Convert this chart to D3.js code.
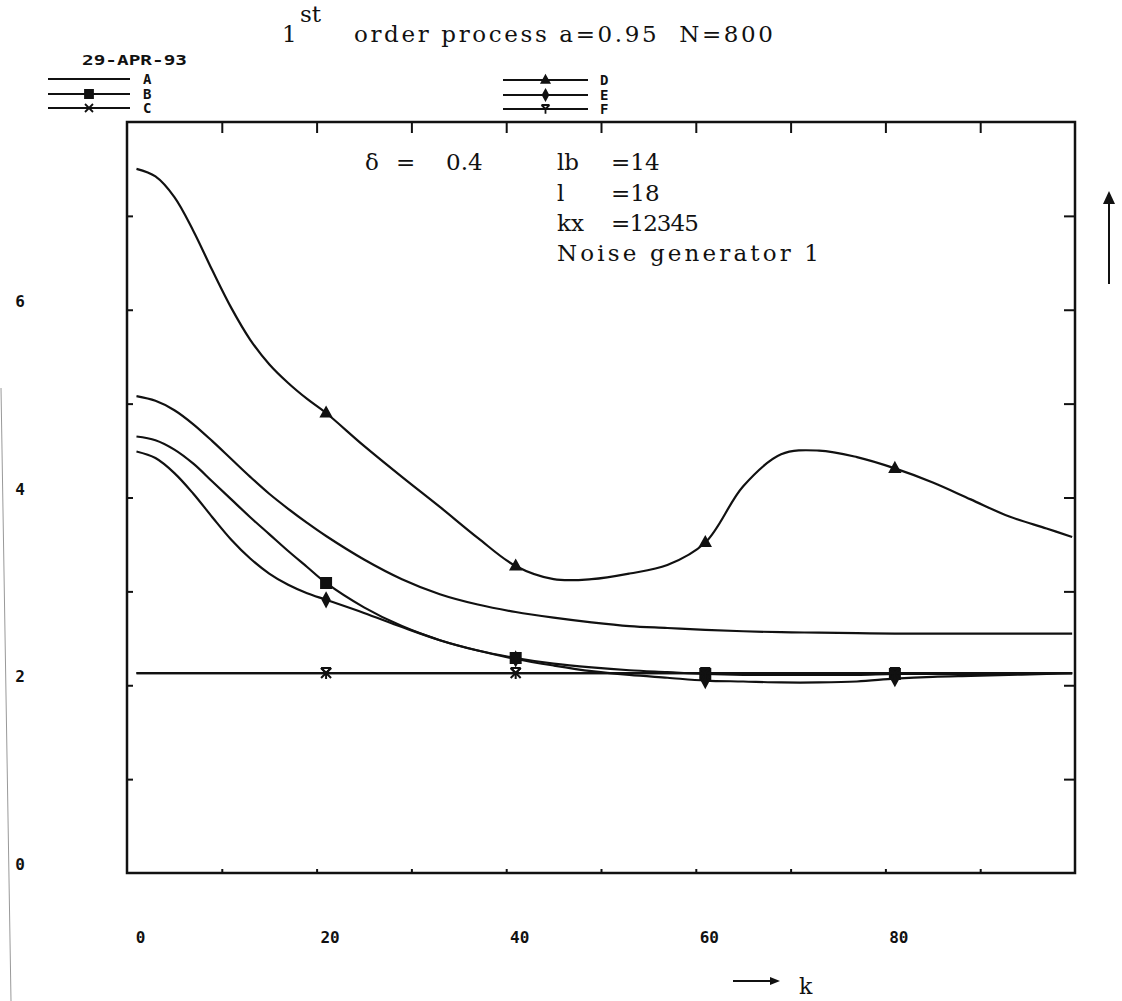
<!DOCTYPE html>
<html>
<head>
    <title>1st order process</title>
    <script src="https://d3js.org/d3.v7.min.js"></script>
    <style>
        body { margin: 0; background: #fff; }
        svg { display: block; }
        .type { font-family: "DejaVu Serif", serif; fill: #111; }
        .plot { font-family: "DejaVu Sans Mono", monospace; font-weight: bold; fill: #111; }
    </style>
</head>
<body>
<svg id="chart" width="1122" height="1001"></svg>
<script>
    // sample points along k (same grid for every series)
    const kGrid = [0, 2, 4, 6, 8, 10, 12, 14, 16, 18, 20, 24, 28, 32, 36, 40, 44, 48, 52, 56, 60, 64, 68, 72, 76, 80, 84, 88, 92, 96, 98.7];

    const seriesA = [5.08, 5.03, 4.93, 4.78, 4.60, 4.41, 4.22, 4.04, 3.88, 3.73, 3.59, 3.34, 3.13, 2.97, 2.86, 2.78, 2.72, 2.67, 2.63, 2.61, 2.59, 2.575, 2.565, 2.56, 2.555, 2.55, 2.55, 2.55, 2.55, 2.55, 2.55];
    const seriesB = [4.65, 4.61, 4.51, 4.36, 4.17, 3.98, 3.79, 3.61, 3.43, 3.26, 3.09, 2.83, 2.63, 2.48, 2.37, 2.29, 2.23, 2.19, 2.16, 2.14, 2.12, 2.11, 2.11, 2.11, 2.11, 2.12, 2.12, 2.12, 2.12, 2.13, 2.13];
    const seriesC = [2.13, 2.13, 2.13, 2.13, 2.13, 2.13, 2.13, 2.13, 2.13, 2.13, 2.13, 2.13, 2.13, 2.13, 2.13, 2.13, 2.13, 2.13, 2.13, 2.13, 2.13, 2.13, 2.13, 2.13, 2.13, 2.13, 2.13, 2.13, 2.13, 2.13, 2.13];
    const seriesD = [7.50, 7.42, 7.20, 6.84, 6.42, 6.02, 5.68, 5.42, 5.22, 5.05, 4.90, 4.55, 4.22, 3.90, 3.57, 3.27, 3.13, 3.13, 3.19, 3.28, 3.52, 4.12, 4.46, 4.50, 4.43, 4.31, 4.16, 3.98, 3.80, 3.67, 3.58];
    const seriesE = [4.49, 4.42, 4.26, 4.04, 3.79, 3.55, 3.35, 3.19, 3.07, 2.98, 2.91, 2.77, 2.62, 2.48, 2.37, 2.28, 2.21, 2.15, 2.11, 2.08, 2.05, 2.04, 2.03, 2.03, 2.04, 2.07, 2.09, 2.10, 2.11, 2.12, 2.13];
    const seriesF = seriesC.slice();

    const markerK = [20, 40, 60, 80];
    const xTickLabels = [0, 20, 40, 60, 80];
    const yTickLabels = [0, 2, 4, 6];

    const svg = d3.select("#chart");

    // plot frame, from the old plotter: k -1..99, value 0..8
    const x = d3.scaleLinear().domain([-1, 99]).range([127, 1075]);
    const y = d3.scaleLinear().domain([0, 8]).range([873, 122]);

    // edge of the scanned page
    svg.append("line")
        .attr("x1", 1).attr("y1", 388).attr("x2", 11).attr("y2", 1001)
        .attr("stroke", "#999").attr("stroke-width", 1);

    // frame ticks divide the box in 10 x 8 parts
    const frameTicksX = d3.range(1, 10).map(i => -1 + 10 * i);
    const frameTicksY = d3.range(1, 8);

    svg.append("g").attr("transform", "translate(0,122)")
        .call(d3.axisTop(x).tickValues(frameTicksX).tickSize(-11).tickFormat(""))
        .call(g => g.select(".domain").remove());
    svg.append("g").attr("transform", "translate(0,873)")
        .call(d3.axisBottom(x).tickValues(frameTicksX).tickSize(-4).tickFormat(""))
        .call(g => g.select(".domain").remove());
    svg.append("g").attr("transform", "translate(127,0)")
        .call(d3.axisLeft(y).tickValues(frameTicksY).tickSize(-6).tickFormat(""))
        .call(g => g.select(".domain").remove());
    svg.append("g").attr("transform", "translate(1075,0)")
        .call(d3.axisRight(y).tickValues(frameTicksY).tickSize(-11).tickFormat(""))
        .call(g => g.select(".domain").remove());
    svg.selectAll(".tick line").attr("stroke", "#111").attr("stroke-width", 2);

    svg.append("rect")
        .attr("x", 127).attr("y", 122).attr("width", 1075 - 127).attr("height", 873 - 122)
        .attr("fill", "none").attr("stroke", "#111").attr("stroke-width", 2.5);

    // tick labels
    svg.append("g").selectAll("text").data(xTickLabels).join("text")
        .attr("class", "plot")
        .attr("x", d => x(d) + 4).attr("y", 943)
        .attr("text-anchor", "middle").attr("font-size", 16)
        .text(d => d);
    svg.append("g").selectAll("text").data(yTickLabels).join("text")
        .attr("class", "plot")
        .attr("x", 20).attr("y", d => y(d) - 3)
        .attr("text-anchor", "middle").attr("font-size", 16)
        .text(d => d);

    // marker shapes
    function markerPath(kind, s) {
        if (kind === "square") return `M${-s},${-s}H${s}V${s}H${-s}Z`;
        if (kind === "triangle") return `M0,${-s * 1.1}L${s},${s * 0.7}L${-s},${s * 0.7}Z`;
        if (kind === "cross") return `M${-s},${-s}L${s},${s}M${s},${-s}L${-s},${s}`;
        if (kind === "diamond") return `M0,${-s * 1.3}L${s * 0.7},0L0,${s * 1.3}L${-s * 0.7},0Z`;
        if (kind === "wye") return `M${-s},${-s}L0,0L${s},${-s}M0,0V${s * 1.2}M${-s},${-s}H${s}`;
        return "";
    }

    const series = [
        { name: "A", values: seriesA, marker: null },
        { name: "B", values: seriesB, marker: "square" },
        { name: "C", values: seriesC, marker: "cross" },
        { name: "D", values: seriesD, marker: "triangle" },
        { name: "E", values: seriesE, marker: "diamond" },
        { name: "F", values: seriesF, marker: "wye" }
    ];

    const line = d3.line()
        .x(d => x(d[0]))
        .y(d => y(d[1]))
        .curve(d3.curveCatmullRom.alpha(0.5));

    const plot = svg.append("g");
    series.forEach(s => {
        const pts = kGrid.map((k, i) => [k, s.values[i]]);
        plot.append("path")
            .datum(pts)
            .attr("d", line)
            .attr("fill", "none").attr("stroke", "#111").attr("stroke-width", 2.2);
        if (s.marker) {
            plot.selectAll(null).data(markerK).join("path")
                .attr("transform", k => `translate(${x(k)},${y(s.values[kGrid.indexOf(k)])})`)
                .attr("d", markerPath(s.marker, 5))
                .attr("fill", s.marker === "cross" || s.marker === "wye" ? "none" : "#111")
                .attr("stroke", "#111").attr("stroke-width", 2);
        }
    });

    // legends
    const legendItems = [
        { name: "A", marker: null, x0: 48, x1: 130, yy: 79, lx: 143 },
        { name: "B", marker: "square", x0: 48, x1: 130, yy: 94, lx: 143 },
        { name: "C", marker: "cross", x0: 48, x1: 130, yy: 108, lx: 143 },
        { name: "D", marker: "triangle", x0: 503, x1: 588, yy: 80, lx: 600 },
        { name: "E", marker: "diamond", x0: 503, x1: 588, yy: 95, lx: 600 },
        { name: "F", marker: "wye", x0: 503, x1: 588, yy: 109, lx: 600 }
    ];
    const legend = svg.append("g");
    legendItems.forEach(d => {
        legend.append("line")
            .attr("x1", d.x0).attr("x2", d.x1).attr("y1", d.yy).attr("y2", d.yy)
            .attr("stroke", "#111").attr("stroke-width", 1.8);
        if (d.marker) {
            legend.append("path")
                .attr("transform", `translate(${(d.x0 + d.x1) / 2},${d.yy})`)
                .attr("d", markerPath(d.marker, 4))
                .attr("fill", d.marker === "cross" || d.marker === "wye" ? "none" : "#111")
                .attr("stroke", "#111").attr("stroke-width", 1.8);
        }
        legend.append("text").attr("class", "plot")
            .attr("x", d.lx).attr("y", d.yy + 5)
            .attr("font-size", 14)
            .text(d.name);
    });
    svg.append("text").attr("class", "plot")
        .attr("x", 82).attr("y", 65)
        .attr("font-size", 14)
        .attr("textLength", 105).attr("lengthAdjust", "spacingAndGlyphs")
        .text("29-APR-93");

    // typewriter text: serif, spaced out to the typewriter pitch
    function typeText(px, py, str, len, size) {
        const t = svg.append("text").attr("class", "type")
            .attr("x", px).attr("y", py)
            .attr("font-size", size || 23)
            .attr("xml:space", "preserve")
            .text(str);
        if (len) t.attr("textLength", len).attr("lengthAdjust", "spacing");
        return t;
    }

    // title
    typeText(282, 42, "1");
    typeText(300, 22, "st");
    typeText(354, 42, "order process a=0.95  N=800", 419);

    // parameter block
    const paramLabels = ["lb", "l", "kx", "Noise generator 1"];
    const paramLabelLen = [0, 0, 0, 262];
    const paramValues = ["=14", "=18", "=12345", ""];
    const paramValueLen = [0, 0, 88, 0];
    const paramY = [170, 201, 231, 261];
    typeText(365, 170, "δ");
    typeText(396, 170, "=");
    typeText(446, 170, "0.4");
    paramLabels.forEach((t, i) => {
        typeText(557, paramY[i], t, paramLabelLen[i]);
        if (paramValues[i]) typeText(611, paramY[i], paramValues[i], paramValueLen[i]);
    });

    // axis direction arrows
    svg.append("line").attr("x1", 1109).attr("x2", 1109).attr("y1", 284).attr("y2", 200)
        .attr("stroke", "#111").attr("stroke-width", 2);
    svg.append("path").attr("d", "M1103,204L1115,204L1109,191Z").attr("fill", "#111");
    svg.append("line").attr("x1", 733).attr("x2", 771).attr("y1", 981).attr("y2", 981)
        .attr("stroke", "#111").attr("stroke-width", 1.8);
    svg.append("path").attr("d", "M770,977L770,985L780,981Z").attr("fill", "#111");
    typeText(799, 994, "k", 0, 22);
</script>
</body>
</html>
